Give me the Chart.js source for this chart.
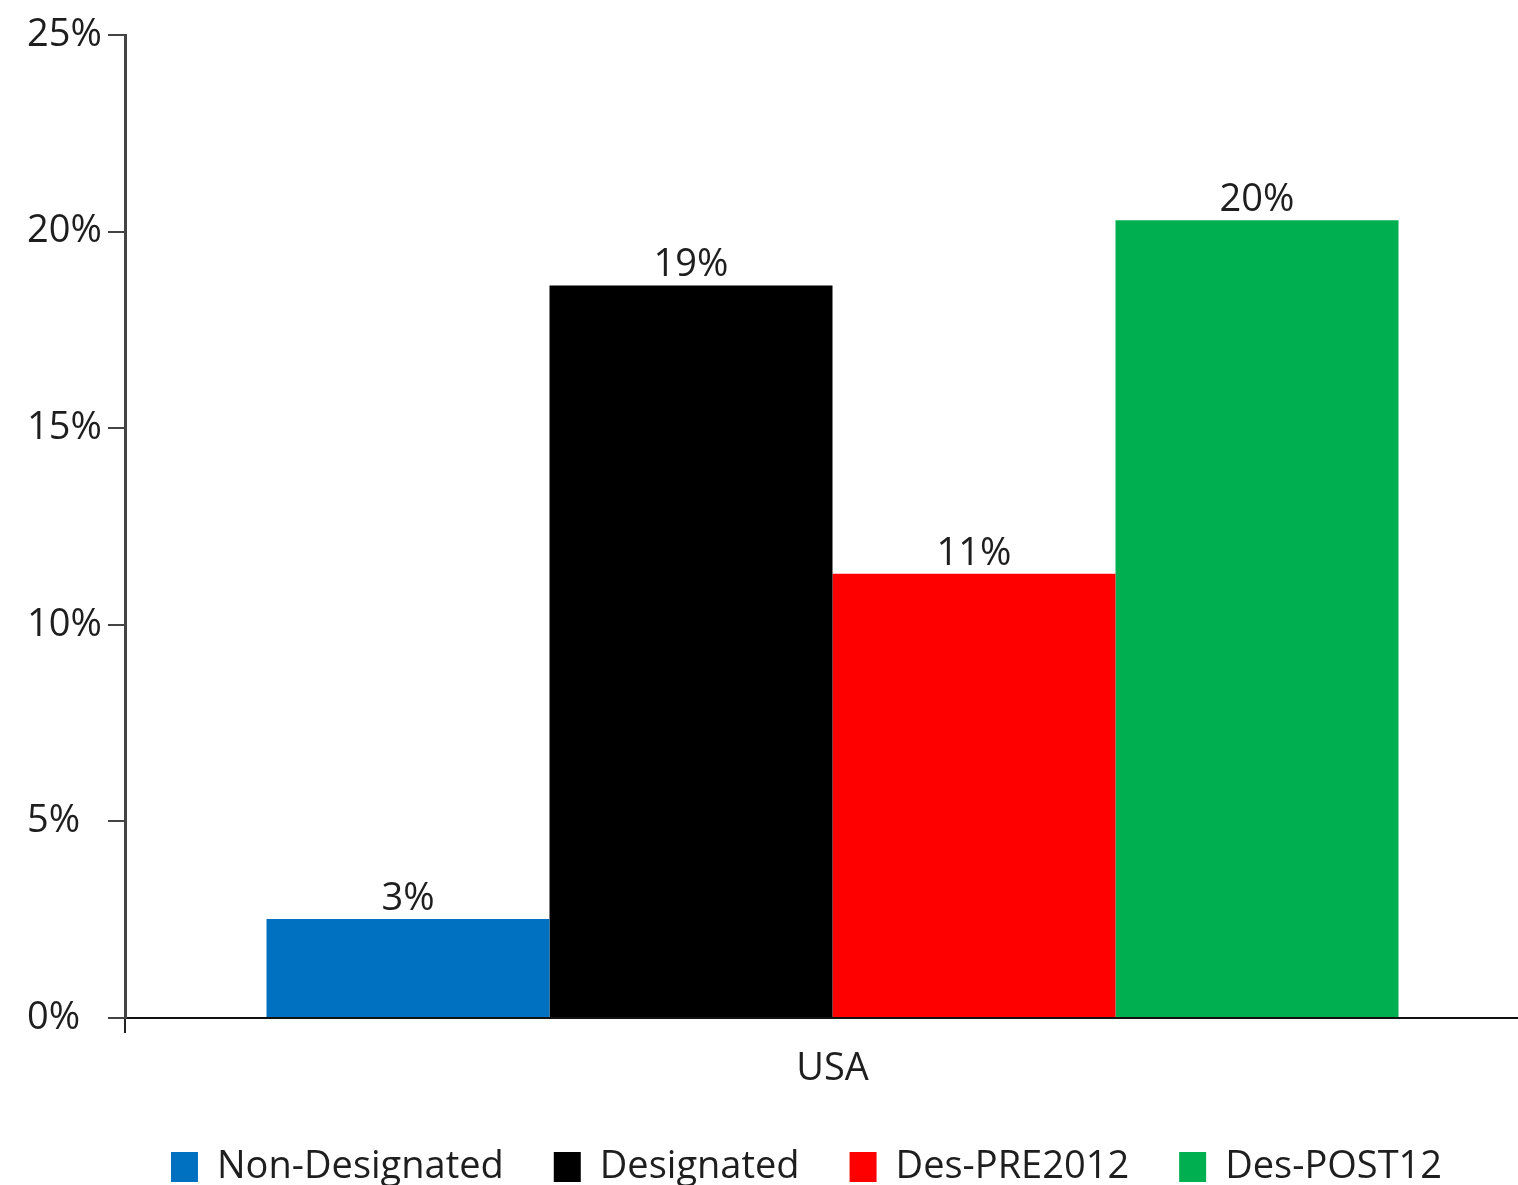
<!DOCTYPE html>
<html>
<head>
<meta charset="utf-8">
<script src="https://cdn.jsdelivr.net/npm/chart.js@4.4.1/dist/chart.umd.min.js"></script>
<style>
  html, body { margin: 0; padding: 0; background: #ffffff; overflow: hidden; }
  #wrap { width: 1540px; height: 1196px; }
</style>
</head>
<body>
<div id="wrap"><canvas id="chart" width="1540" height="1196"></canvas></div>
<script>
// Share of each group, single region
const categories = ['USA'];
const seriesNames = ['Non-Designated', 'Designated', 'Des-PRE2012', 'Des-POST12'];
const nonDesignated = [2.52];
const designated = [18.63];
const desPre2012 = [11.30];
const desPost12 = [20.29];
const yTicks = [0, 5, 10, 15, 20, 25];

const seriesColors = ['#0070C0', '#000000', '#FF0000', '#00B050'];
const FONT = '"Open Sans", "Liberation Sans", sans-serif';
const TEXT = '#1e1e1e';

// value labels above each bar
const barLabels = {
  id: 'barLabels',
  afterDatasetsDraw(chart) {
    const ctx = chart.ctx;
    ctx.save();
    ctx.font = '38px ' + FONT;
    ctx.fillStyle = TEXT;
    ctx.textAlign = 'center';
    ctx.textBaseline = 'bottom';
    chart.data.datasets.forEach((ds, i) => {
      const meta = chart.getDatasetMeta(i);
      meta.data.forEach((bar, j) => {
        ctx.fillText(Math.round(ds.data[j]) + '%', bar.x, bar.y - 1);
      });
    });
    ctx.restore();
  }
};

// centre the legend row under the plot rather than under the whole canvas
const legendShift = {
  id: 'legendShift',
  afterLayout(chart) {
    const lg = chart.legend;
    if (lg) { lg.left += 23; lg.right += 23; }
  }
};

const values = [nonDesignated, designated, desPre2012, desPost12];

new Chart(document.getElementById('chart'), {
  type: 'bar',
  data: {
    labels: categories,
    datasets: seriesNames.map((name, i) => ({
      label: name,
      data: values[i],
      backgroundColor: seriesColors[i],
      borderWidth: 0,
      categoryPercentage: 0.8,
      barPercentage: 1.0
    }))
  },
  options: {
    responsive: false,
    animation: false,
    devicePixelRatio: 1,
    layout: { padding: { left: 27, top: 35, right: 0, bottom: 0 } },
    plugins: {
      legend: {
        position: 'bottom',
        labels: {
          font: { family: FONT, size: 38 },
          color: TEXT,
          boxWidth: 27,
          boxHeight: 30,
          padding: 50
        }
      },
      tooltip: { enabled: false },
      title: { display: false }
    },
    scales: {
      x: {
        grid: {
          drawOnChartArea: false,
          drawTicks: true,
          tickLength: 15,
          color: '#222222',
          lineWidth: 2
        },
        border: { color: '#111111', width: 2 },
        ticks: {
          font: { family: FONT, size: 38 },
          color: TEXT,
          padding: 13
        },
        afterFit(scale) { scale.height = 80; }
      },
      y: {
        min: 0,
        max: 25,
        afterBuildTicks(scale) { scale.ticks = yTicks.map(v => ({ value: v })); },
        grid: {
          drawOnChartArea: false,
          drawTicks: true,
          tickLength: 17,
          color: '#444444',
          lineWidth: 2
        },
        border: { color: '#444444', width: 3 },
        ticks: {
          font: { family: FONT, size: 38 },
          color: TEXT,
          crossAlign: 'far',
          padding: 4,
          callback: v => v + '%'
        },
        afterFit(scale) { scale.width = 98; }
      }
    }
  },
  plugins: [barLabels, legendShift]
});
</script>
</body>
</html>
